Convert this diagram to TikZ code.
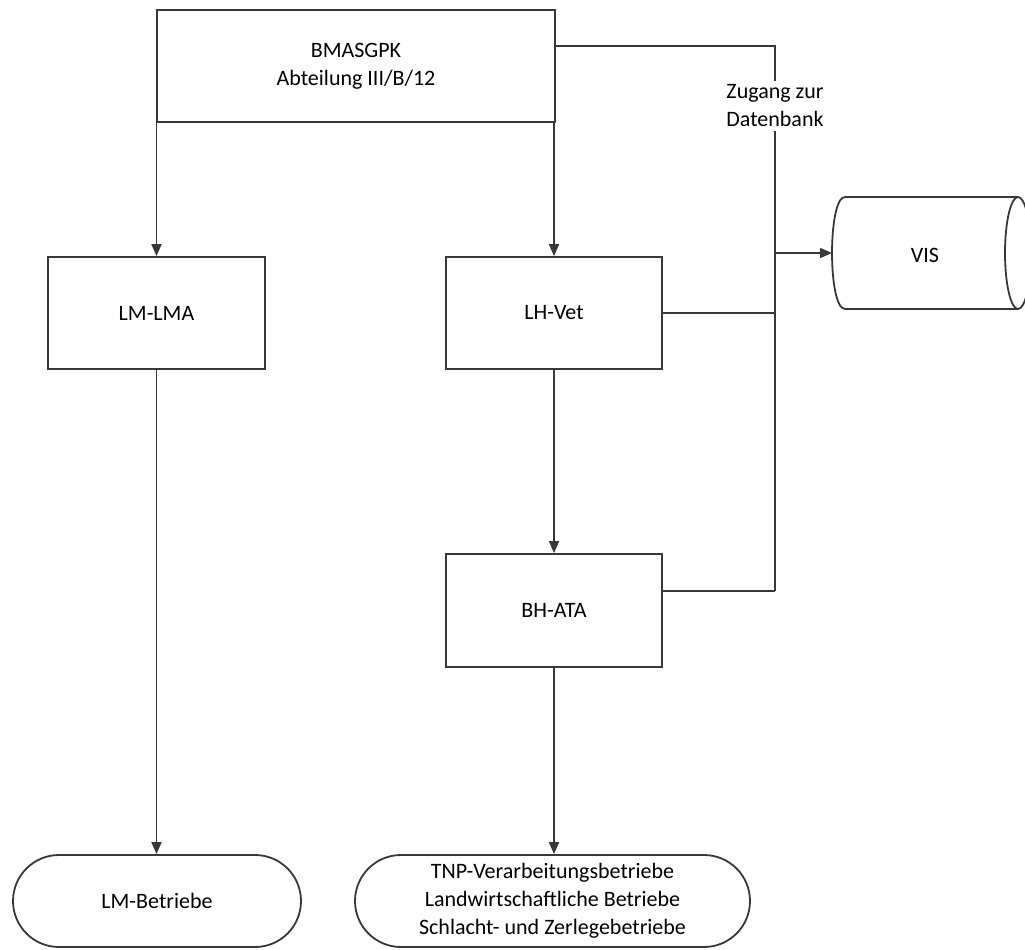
\documentclass[tikz,border=0pt]{standalone}
\usepackage{fontspec}
\setmainfont{Carlito}
\usetikzlibrary{arrows.meta}
\begin{document}
\begin{tikzpicture}[x=1pt,y=-1pt,
  line/.style={draw=black!78, line width=1.8pt},
  arr/.style={line, -{Triangle[length=12pt,width=10pt]}},
  txt/.style={font=\fontsize{22}{28}\selectfont, align=center},
  box/.style={line, txt, rectangle, minimum width=217pt, minimum height=112pt, inner sep=0pt},
  term/.style={line, txt, rectangle, rounded corners=46pt, minimum height=92pt, inner sep=0pt},
  lbl/.style={txt, inner sep=4pt}]
\useasboundingbox (0,0) rectangle (1025,950);

% nodes
\node[box, minimum width=398pt] (bm) at (356,66) {BMASGPK\\Abteilung III/B/12};
\node[box] (lm) at (156.5,313) {LM-LMA};
\node[box, minimum width=216pt] (lh) at (554,313) {LH-Vet};
\node[box, minimum width=216pt, minimum height=113pt] (bh) at (554,610.5) {BH-ATA};
\node[term, minimum width=288pt] (lmb) at (157,901) {LM-Betriebe};
\node[term, minimum width=395pt] (tnp) at (552.5,901) {TNP-Verarbeitungsbetriebe\\Landwirtschaftliche Betriebe\\Schlacht- und Zerlegebetriebe};
\node[lbl] (zug) at (775,106) {Zugang zur\\Datenbank};

% VIS cylinder
\draw[line] (845,197) -- (1018,197);
\draw[line] (845,309) -- (1018,309);
\draw[line] (845,197) .. controls (827.7,197) and (827.7,309) .. (845,309);
\draw[line] (1018,253) ellipse [x radius=13, y radius=56];
\node[txt] (vis) at (925,255) {VIS};
\coordinate (visl) at (832,253);

% junction coordinates
\coordinate (c1) at (775,46);
\coordinate (j1) at (775,253);
\coordinate (j2) at (775,313);
\coordinate (j3) at (775,591);

% connectors
\draw[line] ([yshift=20pt]bm.east) -- (c1) -- (zug.north);
\draw[line] (zug.south) -- (j3);
\draw[line] (lh.east) -- (j2);
\draw[line] ([yshift=19.5pt]bh.east) -- (j3);
\draw[arr] (j1) -- (visl);

\draw[arr] (lm.north |- bm.south) -- (lm.north);
\draw[arr] (lh.north |- bm.south) -- (lh.north);
\draw[arr] (lh.south) -- (bh.north);
\draw[arr] (lm.south) -- (lm.south |- lmb.north);
\draw[arr] (bh.south) -- (bh.south |- tnp.north);
\end{tikzpicture}
\end{document}
